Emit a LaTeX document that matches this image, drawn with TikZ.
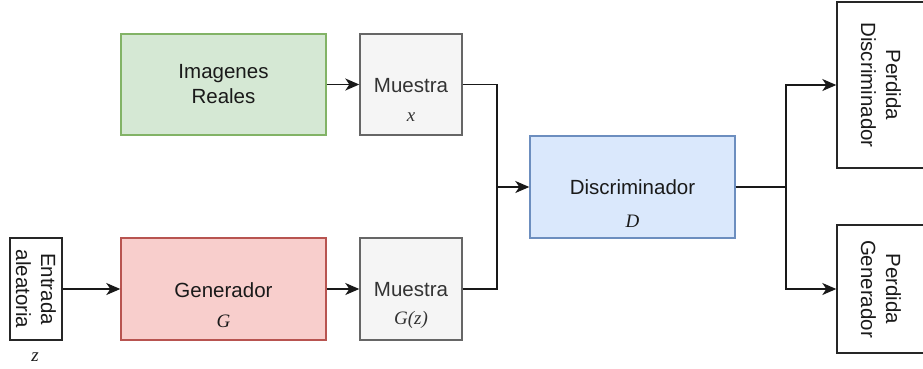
\documentclass[tikz,border=0pt]{standalone}
\usepackage{fontspec}
\setmainfont{Liberation Sans}
\newfontfamily\varfont{Liberation Serif}
\usetikzlibrary{arrows.meta}
\definecolor{greenfill}{HTML}{D5E8D4}
\definecolor{greenline}{HTML}{82B366}
\definecolor{redfill}{HTML}{F8CECC}
\definecolor{redline}{HTML}{B85450}
\definecolor{bluefill}{HTML}{DAE8FC}
\definecolor{blueline}{HTML}{6C8EBF}
\definecolor{grayfill}{HTML}{F5F5F5}
\definecolor{grayline}{HTML}{666666}
\definecolor{graytext}{HTML}{333333}
\definecolor{darktext}{HTML}{1A1A1A}
\tikzset{
  box/.style={draw, line width=1.4pt, inner sep=0pt, align=center,
    text=darktext, font=\fontsize{20.5}{25}\selectfont},
  greenbox/.style={box, fill=greenfill, draw=greenline},
  redbox/.style={box, fill=redfill, draw=redline},
  bluebox/.style={box, fill=bluefill, draw=blueline},
  graybox/.style={box, fill=grayfill, draw=grayline, text=graytext},
  plainbox/.style={box, fill=white, draw=black!85},
  boxtext/.style={box, draw=none, fill=none},
  varlbl/.style={inner sep=0pt, text=darktext, font=\varfont\itshape\fontsize{19}{22}\selectfont},
  wire/.style={line width=1.6pt, draw=black!90},
  arr/.style={wire, -{Stealth[length=14pt,width=12pt,inset=4pt]}},
}
\begin{document}
\begin{tikzpicture}[x=1pt,y=-1pt]
\useasboundingbox (0,0) rectangle (923,368);

% main blocks
\node[greenbox, minimum width=205pt, minimum height=101pt] (real) at (223.5,84.5) {Imagenes\\Reales};
\node[graybox, minimum width=102pt, minimum height=101pt] (mx) at (411,84.5) {};
\node[boxtext, text=graytext] (mxt) at (411,86) {Muestra};
\node[varlbl, text=graytext] (mxm) at (411,117) {x};

\node[redbox, minimum width=205pt, minimum height=102pt] (gen) at (223.5,289) {};
\node[boxtext] (gent) at (223.5,290) {Generador};
\node[varlbl] (genm) at (223.5,321) {G};

\node[graybox, minimum width=102pt, minimum height=102pt] (mg) at (411,289) {};
\node[boxtext, text=graytext] (mgt) at (411,290) {Muestra};
\node[varlbl, text=graytext] (mgm) at (411,320) {G(z)};

\node[bluebox, minimum width=205pt, minimum height=102pt] (disc) at (632.5,187) {};
\node[boxtext] (disct) at (632.5,187) {Discriminador};
\node[varlbl] (discm) at (632.5,221) {D};

% random input (text runs top to bottom)
\node[plainbox, rotate=-90, minimum width=102pt, minimum height=52pt] (ent) at (36,289) {Entrada\\aleatoria};
\node[varlbl] (zl) at (35,357) {z};

% losses (cut off at the right border)
\node[plainbox, rotate=-90, minimum width=166pt, minimum height=88pt] (pd) at (881,85) {Perdida\\Discriminador};
\node[plainbox, rotate=-90, minimum width=128pt, minimum height=88pt] (pg) at (881,289) {Perdida\\Generador};

% junctions
\coordinate (j1) at (497,187);
\coordinate (j2) at (786,187);

% connectors (rotated nodes: north faces right, south faces left)
\draw[arr] (real.east) -- (mx.west);
\draw[arr] (ent.north) -- (gen.west);
\draw[arr] (gen.east) -- (mg.west);
\draw[wire] (mx.east) -| (j1);
\draw[wire] (mg.east) -| (j1);
\draw[arr] (j1) -- (disc.west);
\draw[wire] (disc.east) -- (j2);
\draw[arr] (j2) |- (pd.south);
\draw[arr] (j2) |- (pg.south);
\end{tikzpicture}
\end{document}
